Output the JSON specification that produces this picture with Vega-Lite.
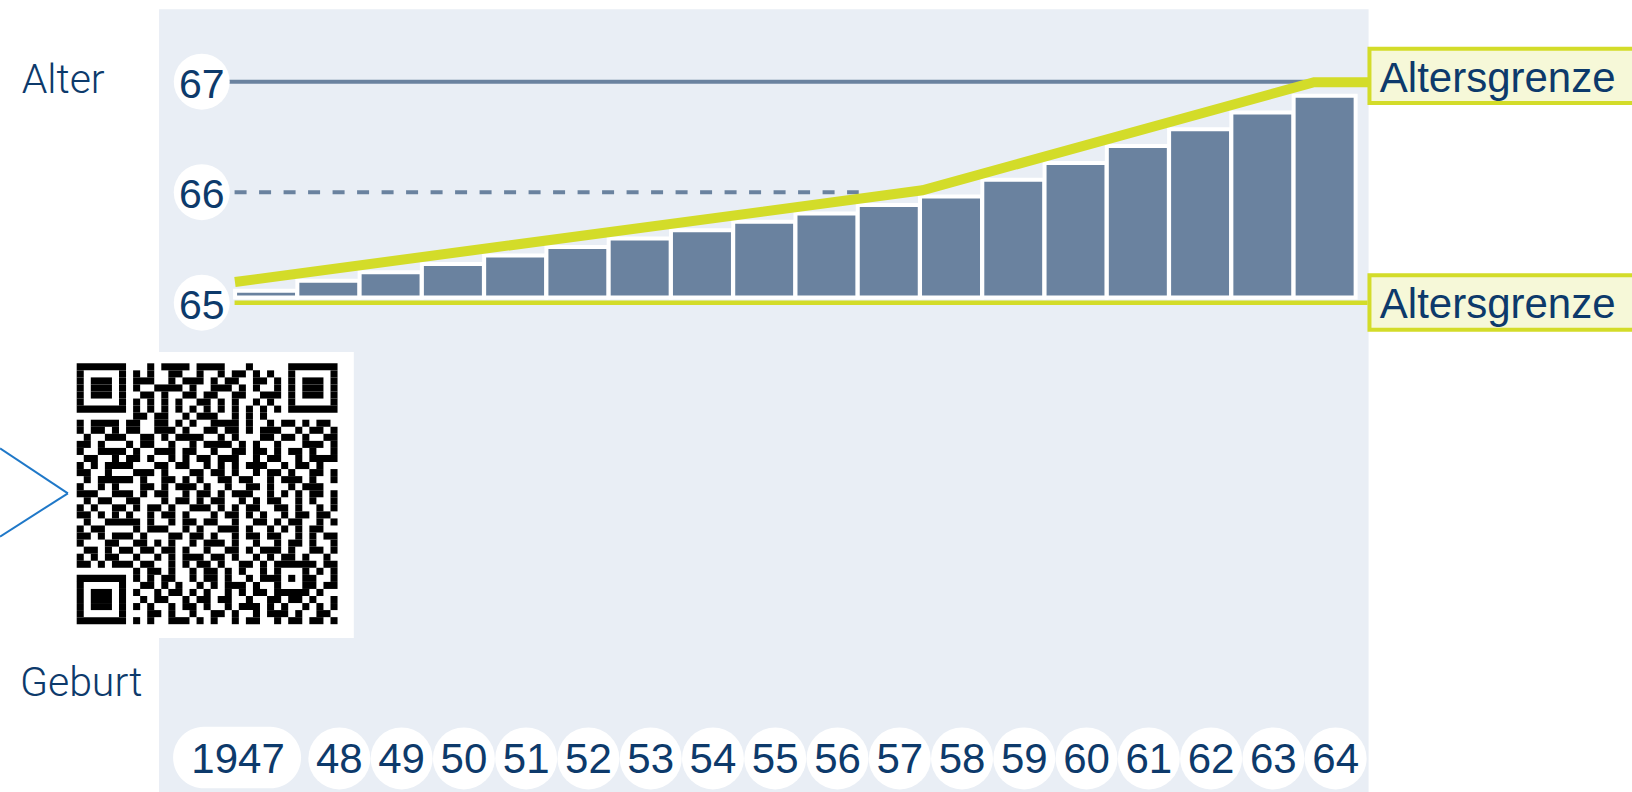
{
  "$schema": "https://vega.github.io/schema/vega-lite/v6.json",
  "width": 1632,
  "height": 792,
  "padding": 0,
  "autosize": {"type": "none"},
  "background": "white",
  "config": {"view": {"stroke": null}, "axis": {"disable": true}, "legend": {"disable": true}},
  "datasets": {
    "balken": [
      {"jahr": 1947, "alter": 65.108, "kurz": "1947"},
      {"jahr": 1948, "alter": 65.199, "kurz": "48"},
      {"jahr": 1949, "alter": 65.275, "kurz": "49"},
      {"jahr": 1950, "alter": 65.351, "kurz": "50"},
      {"jahr": 1951, "alter": 65.427, "kurz": "51"},
      {"jahr": 1952, "alter": 65.504, "kurz": "52"},
      {"jahr": 1953, "alter": 65.580, "kurz": "53"},
      {"jahr": 1954, "alter": 65.656, "kurz": "54"},
      {"jahr": 1955, "alter": 65.732, "kurz": "55"},
      {"jahr": 1956, "alter": 65.808, "kurz": "56"},
      {"jahr": 1957, "alter": 65.884, "kurz": "57"},
      {"jahr": 1958, "alter": 65.960, "kurz": "58"},
      {"jahr": 1959, "alter": 66.112, "kurz": "59"},
      {"jahr": 1960, "alter": 66.265, "kurz": "60"},
      {"jahr": 1961, "alter": 66.417, "kurz": "61"},
      {"jahr": 1962, "alter": 66.569, "kurz": "62"},
      {"jahr": 1963, "alter": 66.721, "kurz": "63"},
      {"jahr": 1964, "alter": 66.873, "kurz": "64"}
    ],
    "grenze": [
      {"jahr": 1946.5, "alter": 65.187},
      {"jahr": 1957.54, "alter": 66.017},
      {"jahr": 1963.83, "alter": 66.995},
      {"jahr": 1964.71, "alter": 66.995}
    ],
    "ticks": [{"alter": 67}, {"alter": 66}, {"alter": 65}],
    "qr": [
      {"r":0,"a":0,"b":7},{"r":0,"a":10,"b":11},{"r":0,"a":12,"b":16},{"r":0,"a":17,"b":21},{"r":0,"a":24,"b":25},{"r":0,"a":30,"b":37},
      {"r":1,"a":0,"b":1},{"r":1,"a":6,"b":7},{"r":1,"a":8,"b":9},{"r":1,"a":10,"b":11},{"r":1,"a":13,"b":15},{"r":1,"a":17,"b":18},{"r":1,"a":20,"b":21},{"r":1,"a":22,"b":24},{"r":1,"a":25,"b":26},{"r":1,"a":27,"b":28},{"r":1,"a":30,"b":31},{"r":1,"a":36,"b":37},
      {"r":2,"a":0,"b":1},{"r":2,"a":2,"b":5},{"r":2,"a":6,"b":7},{"r":2,"a":8,"b":11},{"r":2,"a":13,"b":14},{"r":2,"a":15,"b":18},{"r":2,"a":19,"b":20},{"r":2,"a":21,"b":23},{"r":2,"a":25,"b":27},{"r":2,"a":28,"b":29},{"r":2,"a":30,"b":31},{"r":2,"a":32,"b":35},{"r":2,"a":36,"b":37},
      {"r":3,"a":0,"b":1},{"r":3,"a":2,"b":5},{"r":3,"a":6,"b":7},{"r":3,"a":8,"b":9},{"r":3,"a":11,"b":15},{"r":3,"a":16,"b":17},{"r":3,"a":19,"b":22},{"r":3,"a":23,"b":24},{"r":3,"a":25,"b":26},{"r":3,"a":28,"b":29},{"r":3,"a":30,"b":31},{"r":3,"a":32,"b":35},{"r":3,"a":36,"b":37},
      {"r":4,"a":0,"b":1},{"r":4,"a":2,"b":5},{"r":4,"a":6,"b":7},{"r":4,"a":9,"b":11},{"r":4,"a":12,"b":13},{"r":4,"a":15,"b":17},{"r":4,"a":18,"b":20},{"r":4,"a":22,"b":24},{"r":4,"a":26,"b":29},{"r":4,"a":30,"b":31},{"r":4,"a":32,"b":35},{"r":4,"a":36,"b":37},
      {"r":5,"a":0,"b":1},{"r":5,"a":6,"b":7},{"r":5,"a":8,"b":9},{"r":5,"a":10,"b":11},{"r":5,"a":12,"b":13},{"r":5,"a":14,"b":15},{"r":5,"a":17,"b":19},{"r":5,"a":20,"b":21},{"r":5,"a":22,"b":23},{"r":5,"a":25,"b":26},{"r":5,"a":27,"b":28},{"r":5,"a":30,"b":31},{"r":5,"a":36,"b":37},
      {"r":6,"a":0,"b":7},{"r":6,"a":8,"b":9},{"r":6,"a":10,"b":11},{"r":6,"a":12,"b":13},{"r":6,"a":14,"b":15},{"r":6,"a":16,"b":17},{"r":6,"a":18,"b":19},{"r":6,"a":20,"b":21},{"r":6,"a":22,"b":23},{"r":6,"a":24,"b":25},{"r":6,"a":26,"b":27},{"r":6,"a":28,"b":29},{"r":6,"a":30,"b":37},
      {"r":7,"a":8,"b":10},{"r":7,"a":11,"b":13},{"r":7,"a":15,"b":16},{"r":7,"a":17,"b":20},{"r":7,"a":22,"b":23},{"r":7,"a":24,"b":25},{"r":7,"a":26,"b":27},
      {"r":8,"a":0,"b":1},{"r":8,"a":2,"b":6},{"r":8,"a":7,"b":9},{"r":8,"a":11,"b":13},{"r":8,"a":14,"b":15},{"r":8,"a":16,"b":17},{"r":8,"a":19,"b":23},{"r":8,"a":24,"b":25},{"r":8,"a":27,"b":28},{"r":8,"a":29,"b":31},{"r":8,"a":32,"b":33},{"r":8,"a":34,"b":36},
      {"r":9,"a":0,"b":1},{"r":9,"a":2,"b":4},{"r":9,"a":5,"b":6},{"r":9,"a":7,"b":9},{"r":9,"a":11,"b":14},{"r":9,"a":15,"b":16},{"r":9,"a":18,"b":20},{"r":9,"a":21,"b":23},{"r":9,"a":24,"b":25},{"r":9,"a":26,"b":29},{"r":9,"a":31,"b":32},{"r":9,"a":33,"b":35},{"r":9,"a":36,"b":37},
      {"r":10,"a":1,"b":2},{"r":10,"a":4,"b":7},{"r":10,"a":9,"b":11},{"r":10,"a":12,"b":13},{"r":10,"a":14,"b":18},{"r":10,"a":20,"b":21},{"r":10,"a":22,"b":23},{"r":10,"a":26,"b":28},{"r":10,"a":29,"b":31},{"r":10,"a":32,"b":33},{"r":10,"a":35,"b":37},
      {"r":11,"a":0,"b":2},{"r":11,"a":3,"b":4},{"r":11,"a":7,"b":8},{"r":11,"a":9,"b":11},{"r":11,"a":13,"b":14},{"r":11,"a":16,"b":17},{"r":11,"a":18,"b":22},{"r":11,"a":23,"b":24},{"r":11,"a":25,"b":26},{"r":11,"a":28,"b":29},{"r":11,"a":32,"b":35},{"r":11,"a":36,"b":37},
      {"r":12,"a":0,"b":1},{"r":12,"a":3,"b":7},{"r":12,"a":8,"b":9},{"r":12,"a":11,"b":14},{"r":12,"a":15,"b":17},{"r":12,"a":19,"b":20},{"r":12,"a":22,"b":24},{"r":12,"a":25,"b":27},{"r":12,"a":28,"b":29},{"r":12,"a":30,"b":32},{"r":12,"a":33,"b":34},{"r":12,"a":36,"b":37},
      {"r":13,"a":1,"b":3},{"r":13,"a":5,"b":6},{"r":13,"a":7,"b":9},{"r":13,"a":10,"b":11},{"r":13,"a":13,"b":14},{"r":13,"a":15,"b":16},{"r":13,"a":17,"b":19},{"r":13,"a":20,"b":23},{"r":13,"a":25,"b":26},{"r":13,"a":27,"b":29},{"r":13,"a":31,"b":32},{"r":13,"a":33,"b":37},
      {"r":14,"a":0,"b":1},{"r":14,"a":2,"b":3},{"r":14,"a":4,"b":8},{"r":14,"a":11,"b":13},{"r":14,"a":14,"b":16},{"r":14,"a":18,"b":19},{"r":14,"a":20,"b":21},{"r":14,"a":22,"b":23},{"r":14,"a":24,"b":27},{"r":14,"a":29,"b":30},{"r":14,"a":31,"b":33},{"r":14,"a":34,"b":35},
      {"r":15,"a":0,"b":2},{"r":15,"a":4,"b":5},{"r":15,"a":8,"b":11},{"r":15,"a":12,"b":13},{"r":15,"a":16,"b":18},{"r":15,"a":19,"b":21},{"r":15,"a":22,"b":23},{"r":15,"a":25,"b":26},{"r":15,"a":27,"b":29},{"r":15,"a":30,"b":31},{"r":15,"a":33,"b":35},{"r":15,"a":36,"b":37},
      {"r":16,"a":1,"b":2},{"r":16,"a":3,"b":8},{"r":16,"a":9,"b":10},{"r":16,"a":12,"b":14},{"r":16,"a":15,"b":16},{"r":16,"a":17,"b":18},{"r":16,"a":20,"b":22},{"r":16,"a":23,"b":25},{"r":16,"a":27,"b":28},{"r":16,"a":29,"b":32},{"r":16,"a":33,"b":34},{"r":16,"a":36,"b":37},
      {"r":17,"a":0,"b":1},{"r":17,"a":3,"b":4},{"r":17,"a":5,"b":6},{"r":17,"a":9,"b":11},{"r":17,"a":12,"b":13},{"r":17,"a":14,"b":17},{"r":17,"a":18,"b":19},{"r":17,"a":21,"b":22},{"r":17,"a":24,"b":26},{"r":17,"a":27,"b":28},{"r":17,"a":30,"b":31},{"r":17,"a":32,"b":35},
      {"r":18,"a":0,"b":3},{"r":18,"a":5,"b":8},{"r":18,"a":9,"b":10},{"r":18,"a":11,"b":13},{"r":18,"a":15,"b":16},{"r":18,"a":17,"b":19},{"r":18,"a":20,"b":21},{"r":18,"a":22,"b":25},{"r":18,"a":27,"b":28},{"r":18,"a":29,"b":30},{"r":18,"a":31,"b":32},{"r":18,"a":33,"b":35},{"r":18,"a":36,"b":37},
      {"r":19,"a":1,"b":2},{"r":19,"a":3,"b":5},{"r":19,"a":7,"b":9},{"r":19,"a":12,"b":13},{"r":19,"a":14,"b":16},{"r":19,"a":17,"b":18},{"r":19,"a":19,"b":21},{"r":19,"a":23,"b":24},{"r":19,"a":25,"b":26},{"r":19,"a":27,"b":29},{"r":19,"a":31,"b":32},{"r":19,"a":33,"b":34},{"r":19,"a":36,"b":37},
      {"r":20,"a":0,"b":1},{"r":20,"a":2,"b":3},{"r":20,"a":5,"b":7},{"r":20,"a":8,"b":9},{"r":20,"a":10,"b":12},{"r":20,"a":13,"b":14},{"r":20,"a":16,"b":19},{"r":20,"a":20,"b":21},{"r":20,"a":22,"b":23},{"r":20,"a":24,"b":26},{"r":20,"a":28,"b":30},{"r":20,"a":31,"b":32},{"r":20,"a":34,"b":35},{"r":20,"a":36,"b":37},
      {"r":21,"a":0,"b":2},{"r":21,"a":3,"b":4},{"r":21,"a":5,"b":6},{"r":21,"a":7,"b":8},{"r":21,"a":10,"b":11},{"r":21,"a":12,"b":14},{"r":21,"a":15,"b":16},{"r":21,"a":19,"b":20},{"r":21,"a":21,"b":23},{"r":21,"a":24,"b":25},{"r":21,"a":26,"b":27},{"r":21,"a":29,"b":30},{"r":21,"a":31,"b":33},{"r":21,"a":34,"b":36},
      {"r":22,"a":1,"b":2},{"r":22,"a":4,"b":9},{"r":22,"a":10,"b":11},{"r":22,"a":13,"b":14},{"r":22,"a":15,"b":17},{"r":22,"a":18,"b":20},{"r":22,"a":22,"b":23},{"r":22,"a":25,"b":27},{"r":22,"a":28,"b":29},{"r":22,"a":30,"b":32},{"r":22,"a":34,"b":35},{"r":22,"a":36,"b":37},
      {"r":23,"a":0,"b":1},{"r":23,"a":2,"b":4},{"r":23,"a":8,"b":9},{"r":23,"a":10,"b":13},{"r":23,"a":15,"b":16},{"r":23,"a":17,"b":18},{"r":23,"a":20,"b":23},{"r":23,"a":24,"b":25},{"r":23,"a":27,"b":28},{"r":23,"a":29,"b":30},{"r":23,"a":31,"b":32},{"r":23,"a":33,"b":35},
      {"r":24,"a":0,"b":2},{"r":24,"a":3,"b":4},{"r":24,"a":5,"b":8},{"r":24,"a":9,"b":10},{"r":24,"a":13,"b":15},{"r":24,"a":16,"b":18},{"r":24,"a":19,"b":20},{"r":24,"a":22,"b":23},{"r":24,"a":24,"b":26},{"r":24,"a":27,"b":29},{"r":24,"a":31,"b":32},{"r":24,"a":33,"b":34},{"r":24,"a":35,"b":37},
      {"r":25,"a":0,"b":1},{"r":25,"a":4,"b":6},{"r":25,"a":8,"b":10},{"r":25,"a":11,"b":12},{"r":25,"a":13,"b":14},{"r":25,"a":16,"b":17},{"r":25,"a":18,"b":21},{"r":25,"a":22,"b":23},{"r":25,"a":25,"b":26},{"r":25,"a":28,"b":29},{"r":25,"a":30,"b":32},{"r":25,"a":33,"b":34},{"r":25,"a":36,"b":37},
      {"r":26,"a":1,"b":3},{"r":26,"a":4,"b":5},{"r":26,"a":6,"b":8},{"r":26,"a":9,"b":11},{"r":26,"a":12,"b":14},{"r":26,"a":15,"b":16},{"r":26,"a":18,"b":19},{"r":26,"a":21,"b":23},{"r":26,"a":24,"b":25},{"r":26,"a":26,"b":29},{"r":26,"a":30,"b":31},{"r":26,"a":33,"b":35},{"r":26,"a":36,"b":37},
      {"r":27,"a":0,"b":1},{"r":27,"a":2,"b":3},{"r":27,"a":4,"b":6},{"r":27,"a":8,"b":9},{"r":27,"a":11,"b":12},{"r":27,"a":13,"b":14},{"r":27,"a":15,"b":18},{"r":27,"a":19,"b":21},{"r":27,"a":22,"b":23},{"r":27,"a":25,"b":26},{"r":27,"a":27,"b":28},{"r":27,"a":29,"b":31},{"r":27,"a":32,"b":33},{"r":27,"a":35,"b":36},
      {"r":28,"a":0,"b":2},{"r":28,"a":3,"b":4},{"r":28,"a":5,"b":8},{"r":28,"a":9,"b":11},{"r":28,"a":13,"b":14},{"r":28,"a":15,"b":16},{"r":28,"a":17,"b":19},{"r":28,"a":20,"b":21},{"r":28,"a":23,"b":25},{"r":28,"a":26,"b":27},{"r":28,"a":28,"b":34},{"r":28,"a":35,"b":37},
      {"r":29,"a":8,"b":9},{"r":29,"a":10,"b":12},{"r":29,"a":13,"b":14},{"r":29,"a":16,"b":17},{"r":29,"a":18,"b":20},{"r":29,"a":21,"b":22},{"r":29,"a":23,"b":24},{"r":29,"a":26,"b":27},{"r":29,"a":28,"b":29},{"r":29,"a":32,"b":33},{"r":29,"a":34,"b":35},{"r":29,"a":36,"b":37},
      {"r":30,"a":0,"b":7},{"r":30,"a":8,"b":9},{"r":30,"a":10,"b":11},{"r":30,"a":12,"b":14},{"r":30,"a":16,"b":17},{"r":30,"a":18,"b":20},{"r":30,"a":21,"b":22},{"r":30,"a":24,"b":25},{"r":30,"a":26,"b":29},{"r":30,"a":30,"b":31},{"r":30,"a":32,"b":34},{"r":30,"a":36,"b":37},
      {"r":31,"a":0,"b":1},{"r":31,"a":6,"b":7},{"r":31,"a":9,"b":11},{"r":31,"a":12,"b":13},{"r":31,"a":14,"b":15},{"r":31,"a":17,"b":18},{"r":31,"a":19,"b":20},{"r":31,"a":21,"b":24},{"r":31,"a":25,"b":26},{"r":31,"a":28,"b":29},{"r":31,"a":32,"b":34},{"r":31,"a":35,"b":37},
      {"r":32,"a":0,"b":1},{"r":32,"a":2,"b":5},{"r":32,"a":6,"b":7},{"r":32,"a":8,"b":9},{"r":32,"a":11,"b":12},{"r":32,"a":13,"b":15},{"r":32,"a":16,"b":17},{"r":32,"a":18,"b":19},{"r":32,"a":21,"b":22},{"r":32,"a":23,"b":24},{"r":32,"a":25,"b":27},{"r":32,"a":28,"b":33},{"r":32,"a":34,"b":35},
      {"r":33,"a":0,"b":1},{"r":33,"a":2,"b":5},{"r":33,"a":6,"b":7},{"r":33,"a":9,"b":10},{"r":33,"a":11,"b":13},{"r":33,"a":15,"b":16},{"r":33,"a":17,"b":19},{"r":33,"a":20,"b":22},{"r":33,"a":24,"b":25},{"r":33,"a":27,"b":29},{"r":33,"a":30,"b":32},{"r":33,"a":33,"b":34},{"r":33,"a":36,"b":37},
      {"r":34,"a":0,"b":1},{"r":34,"a":2,"b":5},{"r":34,"a":6,"b":7},{"r":34,"a":8,"b":9},{"r":34,"a":10,"b":11},{"r":34,"a":13,"b":14},{"r":34,"a":15,"b":17},{"r":34,"a":18,"b":19},{"r":34,"a":21,"b":22},{"r":34,"a":23,"b":26},{"r":34,"a":27,"b":28},{"r":34,"a":29,"b":30},{"r":34,"a":32,"b":33},{"r":34,"a":34,"b":35},{"r":34,"a":36,"b":37},
      {"r":35,"a":0,"b":1},{"r":35,"a":6,"b":7},{"r":35,"a":10,"b":12},{"r":35,"a":13,"b":14},{"r":35,"a":16,"b":17},{"r":35,"a":19,"b":21},{"r":35,"a":22,"b":23},{"r":35,"a":25,"b":26},{"r":35,"a":27,"b":30},{"r":35,"a":31,"b":32},{"r":35,"a":34,"b":36},
      {"r":36,"a":0,"b":7},{"r":36,"a":8,"b":9},{"r":36,"a":10,"b":11},{"r":36,"a":13,"b":16},{"r":36,"a":17,"b":18},{"r":36,"a":19,"b":20},{"r":36,"a":22,"b":23},{"r":36,"a":24,"b":26},{"r":36,"a":28,"b":29},{"r":36,"a":30,"b":32},{"r":36,"a":33,"b":35},{"r":36,"a":36,"b":37}
    ]
  },
  "layer": [
    {
      "layer": [
        {
          "data": {"values": [{}]},
          "mark": {"type": "rect", "color": "#e9eef5"},
          "encoding": {
            "x": {"datum": 1945.281, "type": "quantitative", "scale": {"domain": [1942.807, 1968.856], "nice": false, "zero": false}},
            "x2": {"datum": 1964.706},
            "y": {"datum": 67.655, "type": "quantitative", "scale": {"domain": [60.572, 67.739], "nice": false, "zero": false}},
            "y2": {"datum": 60.5}
          }
        },
        {
          "data": {"values": [{}]},
          "mark": {"type": "rect", "color": "#ffffff"},
          "encoding": {
            "x": {"datum": 1945.15, "type": "quantitative", "scale": {"domain": [1942.807, 1968.856], "nice": false, "zero": false}},
            "x2": {"datum": 1948.409},
            "y": {"datum": 64.553, "type": "quantitative", "scale": {"domain": [60.572, 67.739], "nice": false, "zero": false}},
            "y2": {"datum": 61.965}
          }
        },
        {
          "data": {"values": [{}]},
          "mark": {"type": "rule", "color": "#6a829f", "strokeWidth": 4},
          "encoding": {
            "x": {"datum": 1946.366, "type": "quantitative", "scale": {"domain": [1942.807, 1968.856], "nice": false, "zero": false}},
            "x2": {"datum": 1963.829},
            "y": {"datum": 67, "type": "quantitative", "scale": {"domain": [60.572, 67.739], "nice": false, "zero": false}}
          }
        },
        {
          "data": {"values": [{}]},
          "mark": {"type": "rule", "color": "#6a829f", "strokeWidth": 4, "strokeDash": [12, 12.5]},
          "encoding": {
            "x": {"datum": 1946.494, "type": "quantitative", "scale": {"domain": [1942.807, 1968.856], "nice": false, "zero": false}},
            "x2": {"datum": 1956.518},
            "y": {"datum": 66, "type": "quantitative", "scale": {"domain": [60.572, 67.739], "nice": false, "zero": false}}
          }
        },
        {
          "data": {"name": "balken"},
          "mark": {"type": "bar", "width": 62, "color": "#6a829f", "stroke": "#ffffff", "strokeWidth": 4},
          "encoding": {
            "x": {"field": "jahr", "type": "quantitative", "scale": {"domain": [1942.807, 1968.856], "nice": false, "zero": false}},
            "y": {"field": "alter", "type": "quantitative", "scale": {"domain": [60.572, 67.739], "nice": false, "zero": false}},
            "y2": {"datum": 65.047}
          }
        },
        {
          "data": {"values": [{}]},
          "mark": {"type": "rule", "color": "#d3dc29", "strokeWidth": 4.5},
          "encoding": {
            "x": {"datum": 1946.494, "type": "quantitative", "scale": {"domain": [1942.807, 1968.856], "nice": false, "zero": false}},
            "x2": {"datum": 1964.69},
            "y": {"datum": 65, "type": "quantitative", "scale": {"domain": [60.572, 67.739], "nice": false, "zero": false}}
          }
        },
        {
          "data": {"name": "grenze"},
          "mark": {"type": "line", "color": "#d3dc29", "strokeWidth": 10, "strokeJoin": "miter", "strokeCap": "butt"},
          "encoding": {
            "x": {"field": "jahr", "type": "quantitative", "scale": {"domain": [1942.807, 1968.856], "nice": false, "zero": false}},
            "y": {"field": "alter", "type": "quantitative", "scale": {"domain": [60.572, 67.739], "nice": false, "zero": false}}
          }
        },
        {
          "data": {"name": "ticks"},
          "mark": {"type": "point", "shape": "circle", "filled": true, "color": "#ffffff", "opacity": 1, "size": 3136},
          "encoding": {
            "x": {"datum": 1945.967, "type": "quantitative", "scale": {"domain": [1942.807, 1968.856], "nice": false, "zero": false}},
            "y": {"field": "alter", "type": "quantitative", "scale": {"domain": [60.572, 67.739], "nice": false, "zero": false}}
          }
        },
        {
          "data": {"name": "ticks"},
          "mark": {"type": "text", "font": "Liberation Sans", "fontSize": 41, "color": "#0d3a6b", "align": "center", "baseline": "alphabetic", "dy": 16},
          "encoding": {
            "x": {"datum": 1945.967, "type": "quantitative", "scale": {"domain": [1942.807, 1968.856], "nice": false, "zero": false}},
            "y": {"field": "alter", "type": "quantitative", "scale": {"domain": [60.572, 67.739], "nice": false, "zero": false}},
            "text": {"field": "alter", "type": "nominal"}
          }
        },
        {
          "data": {"name": "balken"},
          "transform": [{"filter": "datum.jahr == 1947"}],
          "mark": {"type": "bar", "width": 128, "cornerRadius": 31, "color": "#ffffff", "xOffset": -29},
          "encoding": {
            "x": {"field": "jahr", "type": "quantitative", "scale": {"domain": [1942.807, 1968.856], "nice": false, "zero": false}},
            "y": {"datum": 61.163, "type": "quantitative", "scale": {"domain": [60.572, 67.739], "nice": false, "zero": false}},
            "y2": {"datum": 60.605}
          }
        },
        {
          "data": {"name": "balken"},
          "transform": [{"filter": "datum.jahr > 1947"}],
          "mark": {"type": "point", "shape": "circle", "filled": true, "color": "#ffffff", "opacity": 1, "size": 3844, "xOffset": 11},
          "encoding": {
            "x": {"field": "jahr", "type": "quantitative", "scale": {"domain": [1942.807, 1968.856], "nice": false, "zero": false}},
            "y": {"datum": 60.876, "type": "quantitative", "scale": {"domain": [60.572, 67.739], "nice": false, "zero": false}}
          }
        },
        {
          "data": {"name": "balken"},
          "transform": [{"filter": "datum.jahr > 1947"}],
          "mark": {"type": "text", "font": "Liberation Sans", "fontSize": 42, "color": "#0d3a6b", "align": "center", "baseline": "alphabetic", "dx": 11, "dy": 15},
          "encoding": {
            "x": {"field": "jahr", "type": "quantitative", "scale": {"domain": [1942.807, 1968.856], "nice": false, "zero": false}},
            "y": {"datum": 60.876, "type": "quantitative", "scale": {"domain": [60.572, 67.739], "nice": false, "zero": false}},
            "text": {"field": "kurz", "type": "nominal"}
          }
        },
        {
          "data": {"name": "balken"},
          "transform": [{"filter": "datum.jahr == 1947"}],
          "mark": {"type": "text", "font": "Liberation Sans", "fontSize": 42, "color": "#0d3a6b", "align": "center", "baseline": "alphabetic", "dx": -28, "dy": 15},
          "encoding": {
            "x": {"field": "jahr", "type": "quantitative", "scale": {"domain": [1942.807, 1968.856], "nice": false, "zero": false}},
            "y": {"datum": 60.876, "type": "quantitative", "scale": {"domain": [60.572, 67.739], "nice": false, "zero": false}},
            "text": {"field": "kurz", "type": "nominal"}
          }
        },
        {
          "data": {"values": [{}]},
          "mark": {"type": "rect", "color": "#f6f8d8", "stroke": "#d3dc29", "strokeWidth": 4},
          "encoding": {
            "x": {"datum": 1964.72, "type": "quantitative", "scale": {"domain": [1942.807, 1968.856], "nice": false, "zero": false}},
            "x2": {"datum": 1969.2},
            "y": {"datum": 67.298, "type": "quantitative", "scale": {"domain": [60.572, 67.739], "nice": false, "zero": false}},
            "y2": {"datum": 66.807}
          }
        },
        {
          "data": {"values": [{}]},
          "mark": {"type": "rect", "color": "#f6f8d8", "stroke": "#d3dc29", "strokeWidth": 4},
          "encoding": {
            "x": {"datum": 1964.72, "type": "quantitative", "scale": {"domain": [1942.807, 1968.856], "nice": false, "zero": false}},
            "x2": {"datum": 1969.2},
            "y": {"datum": 65.248, "type": "quantitative", "scale": {"domain": [60.572, 67.739], "nice": false, "zero": false}},
            "y2": {"datum": 64.756}
          }
        },
        {
          "data": {"values": [{}]},
          "mark": {"type": "text", "text": "Altersgrenze", "font": "Liberation Sans", "fontSize": 42, "color": "#0d3a6b", "align": "left", "baseline": "alphabetic"},
          "encoding": {
            "x": {"datum": 1964.886, "type": "quantitative", "scale": {"domain": [1942.807, 1968.856], "nice": false, "zero": false}},
            "y": {"datum": 66.909, "type": "quantitative", "scale": {"domain": [60.572, 67.739], "nice": false, "zero": false}}
          }
        },
        {
          "data": {"values": [{}]},
          "mark": {"type": "text", "text": "Altersgrenze", "font": "Liberation Sans", "fontSize": 42, "color": "#0d3a6b", "align": "left", "baseline": "alphabetic"},
          "encoding": {
            "x": {"datum": 1964.886, "type": "quantitative", "scale": {"domain": [1942.807, 1968.856], "nice": false, "zero": false}},
            "y": {"datum": 64.858, "type": "quantitative", "scale": {"domain": [60.572, 67.739], "nice": false, "zero": false}}
          }
        },
        {
          "data": {"values": [{}]},
          "mark": {"type": "text", "text": "Alter", "font": "Roboto", "fontWeight": 300, "fontSize": 41, "letterSpacing": 1.2, "color": "#0d3a6b", "align": "left", "baseline": "alphabetic"},
          "encoding": {
            "x": {"datum": 1943.074, "type": "quantitative", "scale": {"domain": [1942.807, 1968.856], "nice": false, "zero": false}},
            "y": {"datum": 66.895, "type": "quantitative", "scale": {"domain": [60.572, 67.739], "nice": false, "zero": false}}
          }
        },
        {
          "data": {"values": [{}]},
          "mark": {"type": "text", "text": "Geburt", "font": "Roboto", "fontWeight": 300, "fontSize": 41, "letterSpacing": 1.2, "color": "#0d3a6b", "align": "left", "baseline": "alphabetic"},
          "encoding": {
            "x": {"datum": 1943.046, "type": "quantitative", "scale": {"domain": [1942.807, 1968.856], "nice": false, "zero": false}},
            "y": {"datum": 61.44, "type": "quantitative", "scale": {"domain": [60.572, 67.739], "nice": false, "zero": false}}
          }
        },
        {
          "data": {"values": [{}]},
          "mark": {"type": "rule", "color": "#1f78c8", "strokeWidth": 2},
          "encoding": {
            "x": {"datum": 1942.727, "type": "quantitative", "scale": {"domain": [1942.807, 1968.856], "nice": false, "zero": false}},
            "x2": {"datum": 1943.817},
            "y": {"datum": 63.681, "type": "quantitative", "scale": {"domain": [60.572, 67.739], "nice": false, "zero": false}},
            "y2": {"datum": 63.275}
          }
        },
        {
          "data": {"values": [{}]},
          "mark": {"type": "rule", "color": "#1f78c8", "strokeWidth": 2},
          "encoding": {
            "x": {"datum": 1943.817, "type": "quantitative", "scale": {"domain": [1942.807, 1968.856], "nice": false, "zero": false}},
            "x2": {"datum": 1942.727},
            "y": {"datum": 63.275, "type": "quantitative", "scale": {"domain": [60.572, 67.739], "nice": false, "zero": false}},
            "y2": {"datum": 62.883}
          }
        }
      ]
    },
    {
      "data": {"name": "qr"},
      "mark": {"type": "rect", "color": "#000000"},
      "encoding": {
        "x": {"field": "a", "type": "quantitative", "scale": {"domain": [-10.879, 220.61], "nice": false, "zero": false}},
        "x2": {"field": "b"},
        "y": {"field": "r", "type": "ordinal", "scale": {"domain": [0,1,2,3,4,5,6,7,8,9,10,11,12,13,14,15,16,17,18,19,20,21,22,23,24,25,26,27,28,29,30,31,32,33,34,35,36], "range": [363.3, 624.2], "paddingInner": 0, "paddingOuter": 0}}
      }
    }
  ],
  "resolve": {"scale": {"x": "independent", "y": "independent"}}
}
